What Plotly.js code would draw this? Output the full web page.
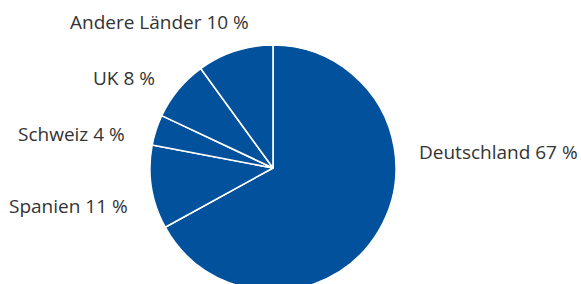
<!DOCTYPE html>
<html>
<head>
<meta charset="utf-8">
<script src="https://cdn.plot.ly/plotly-3.0.1.min.js"></script>
<style>
html,body{margin:0;padding:0;overflow:hidden;background:#fff;}
#chart{width:581px;height:320px;}
</style>
</head>
<body>
<div id="chart"></div>
<script>
const countries = ["Deutschland", "Spanien", "Schweiz", "UK", "Andere Länder"];
const shares = [67, 11, 4, 8, 10];

// label anchor positions in pixels (center x, center y)
const labelPos = [[498, 152], [68, 206], [71, 134], [124, 78], [159, 22]];

const W = 581, H = 320;
const cx = 273, cy = 168, r = 123;

const trace = {
  type: "pie",
  labels: countries,
  values: shares,
  sort: false,
  direction: "clockwise",
  rotation: 0,
  textinfo: "none",
  hoverinfo: "none",
  marker: {colors: countries.map(() => "#02519C"), line: {color: "#ffffff", width: 1.6}},
  domain: {x: [(cx - r) / W, (cx + r) / W], y: [(H - cy - r) / H, (H - cy + r) / H]},
  showlegend: false
};

const annotations = countries.map((c, i) => ({
  text: c + " " + shares[i] + " %",
  xref: "paper", yref: "paper",
  x: labelPos[i][0] / W, y: 1 - labelPos[i][1] / H,
  xanchor: "center", yanchor: "middle",
  showarrow: false,
  font: {family: "Open Sans, sans-serif", size: 19, color: "#333333"}
}));

Plotly.newPlot("chart", [trace], {
  width: W, height: H,
  margin: {l: 0, r: 0, t: 0, b: 0},
  paper_bgcolor: "#ffffff",
  annotations: annotations
}, {displayModeBar: false, staticPlot: true});
</script>
</body>
</html>
